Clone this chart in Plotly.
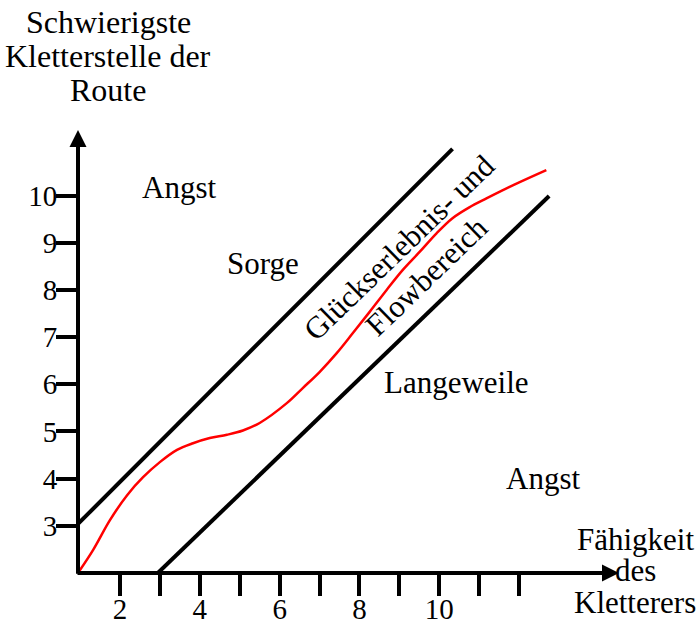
import plotly.graph_objects as go

# ---- data ----
flow_x = [0.95, 1.33, 1.75, 2.18, 2.58, 3.0, 3.43, 3.83, 4.25, 4.68, 5.08, 5.5, 6.18, 6.58,
          7.0, 7.43, 7.83, 8.25, 8.68, 9.08, 9.5, 9.93, 10.33, 10.75, 11.18, 11.58, 12.0, 12.68]
flow_y = [2.0, 2.49, 3.12, 3.65, 4.03, 4.35, 4.61, 4.75, 4.86, 4.93, 5.02, 5.18, 5.60, 5.92,
          6.26, 6.66, 7.08, 7.53, 8.0, 8.42, 8.80, 9.20, 9.52, 9.75, 9.94, 10.11, 10.28, 10.54]
upper_x = [0.95, 10.33]
upper_y = [3.04, 10.99]
lower_x = [2.95, 12.75]
lower_y = [2.0, 9.99]

x_tickvals = [2, 3, 4, 5, 6, 7, 8, 9, 10, 11, 12]
x_ticktext = ["2", "", "4", "", "6", "", "8", "", "10", "", ""]
y_tickvals = [3, 4, 5, 6, 7, 8, 9, 10]
y_ticktext = ["3", "4", "5", "6", "7", "8", "9", "10"]

region_labels = ["Angst", "Sorge", "Langeweile", "Angst"]
region_x = [3.475, 5.575, 10.425, 12.6]
region_y = [10.18, 8.55, 6.03, 4.01]

flow_labels = ["Glückserlebnis- und", "Flowbereich"]
flow_lx = [9.0, 9.675]
flow_ly = [8.89, 8.28]

y_title_lines = ["Schwierigste", "Kletterstelle der", "Route"]
x_title_lines = ["Fähigkeit", "des", "Kletterers"]

X0, X1 = 0.95, 14.5
Y0, Y1 = 2.0, 11.39
FONT = "Liberation Serif, Times New Roman, serif"

fig = go.Figure()
fig.add_trace(go.Scatter(x=upper_x, y=upper_y, mode="lines",
                         line=dict(color="black", width=4), hoverinfo="skip"))
fig.add_trace(go.Scatter(x=lower_x, y=lower_y, mode="lines",
                         line=dict(color="black", width=4), hoverinfo="skip"))
fig.add_trace(go.Scatter(x=flow_x, y=flow_y, mode="lines",
                         line=dict(color="#ff0000", width=2.5, shape="spline", smoothing=1.0),
                         hoverinfo="skip"))

annotations = []
# axis arrows
annotations.append(dict(x=X1, y=Y0, ax=X0 - 0.05, ay=Y0, xref="x", yref="y", axref="x", ayref="y",
                        text="", showarrow=True, arrowhead=2, arrowsize=0.85, arrowwidth=4,
                        arrowcolor="black"))
annotations.append(dict(x=X0, y=Y1, ax=X0, ay=Y0 - 0.05, xref="x", yref="y", axref="x", ayref="y",
                        text="", showarrow=True, arrowhead=2, arrowsize=0.85, arrowwidth=4,
                        arrowcolor="black"))

for t, xx, yy in zip(region_labels, region_x, region_y):
    annotations.append(dict(x=xx, y=yy, xref="x", yref="y", text=t, showarrow=False,
                            xanchor="center", yanchor="middle",
                            font=dict(family=FONT, size=31, color="black")))
for t, xx, yy in zip(flow_labels, flow_lx, flow_ly):
    annotations.append(dict(x=xx, y=yy, xref="x", yref="y", text=t, showarrow=False,
                            xanchor="center", yanchor="middle",
                            textangle=-44, font=dict(family=FONT, size=31, color="black")))

for t, yy in zip(y_title_lines, [1.2438, 1.167, 1.090]):
    annotations.append(dict(x=0.0555, y=yy, xref="paper", yref="paper", text=t, showarrow=False,
                            xanchor="center", yanchor="middle",
                            font=dict(family=FONT, size=32, color="black")))
for t, yy in zip(x_title_lines, [0.0756, 0.0056, -0.0666]):
    annotations.append(dict(x=1.0296, y=yy, xref="paper", yref="paper", text=t, showarrow=False,
                            xanchor="center", yanchor="middle",
                            font=dict(family=FONT, size=31, color="black")))

fig.update_layout(
    width=700, height=623,
    margin=dict(l=78, r=81, t=130, b=50, autoexpand=False),
    paper_bgcolor="white", plot_bgcolor="white",
    showlegend=False,
    annotations=annotations,
    xaxis=dict(range=[X0, X1], showgrid=False, zeroline=False, showline=False,
               tickmode="array", tickvals=x_tickvals, ticktext=x_ticktext,
               ticks="outside", ticklen=22, tickwidth=4, tickcolor="black",
               ticklabelstandoff=-12,
               tickfont=dict(family=FONT, size=29, color="black")),
    yaxis=dict(range=[Y0, Y1], showgrid=False, zeroline=False, showline=False,
               tickmode="array", tickvals=y_tickvals, ticktext=y_ticktext,
               ticks="outside", ticklen=21, tickwidth=4, tickcolor="black",
               ticklabelstandoff=-7,
               tickfont=dict(family=FONT, size=29, color="black")),
)

fig.write_html("out.html", config={"displayModeBar": False},
               post_script="document.body.style.margin='0';document.body.style.overflow='hidden';")
